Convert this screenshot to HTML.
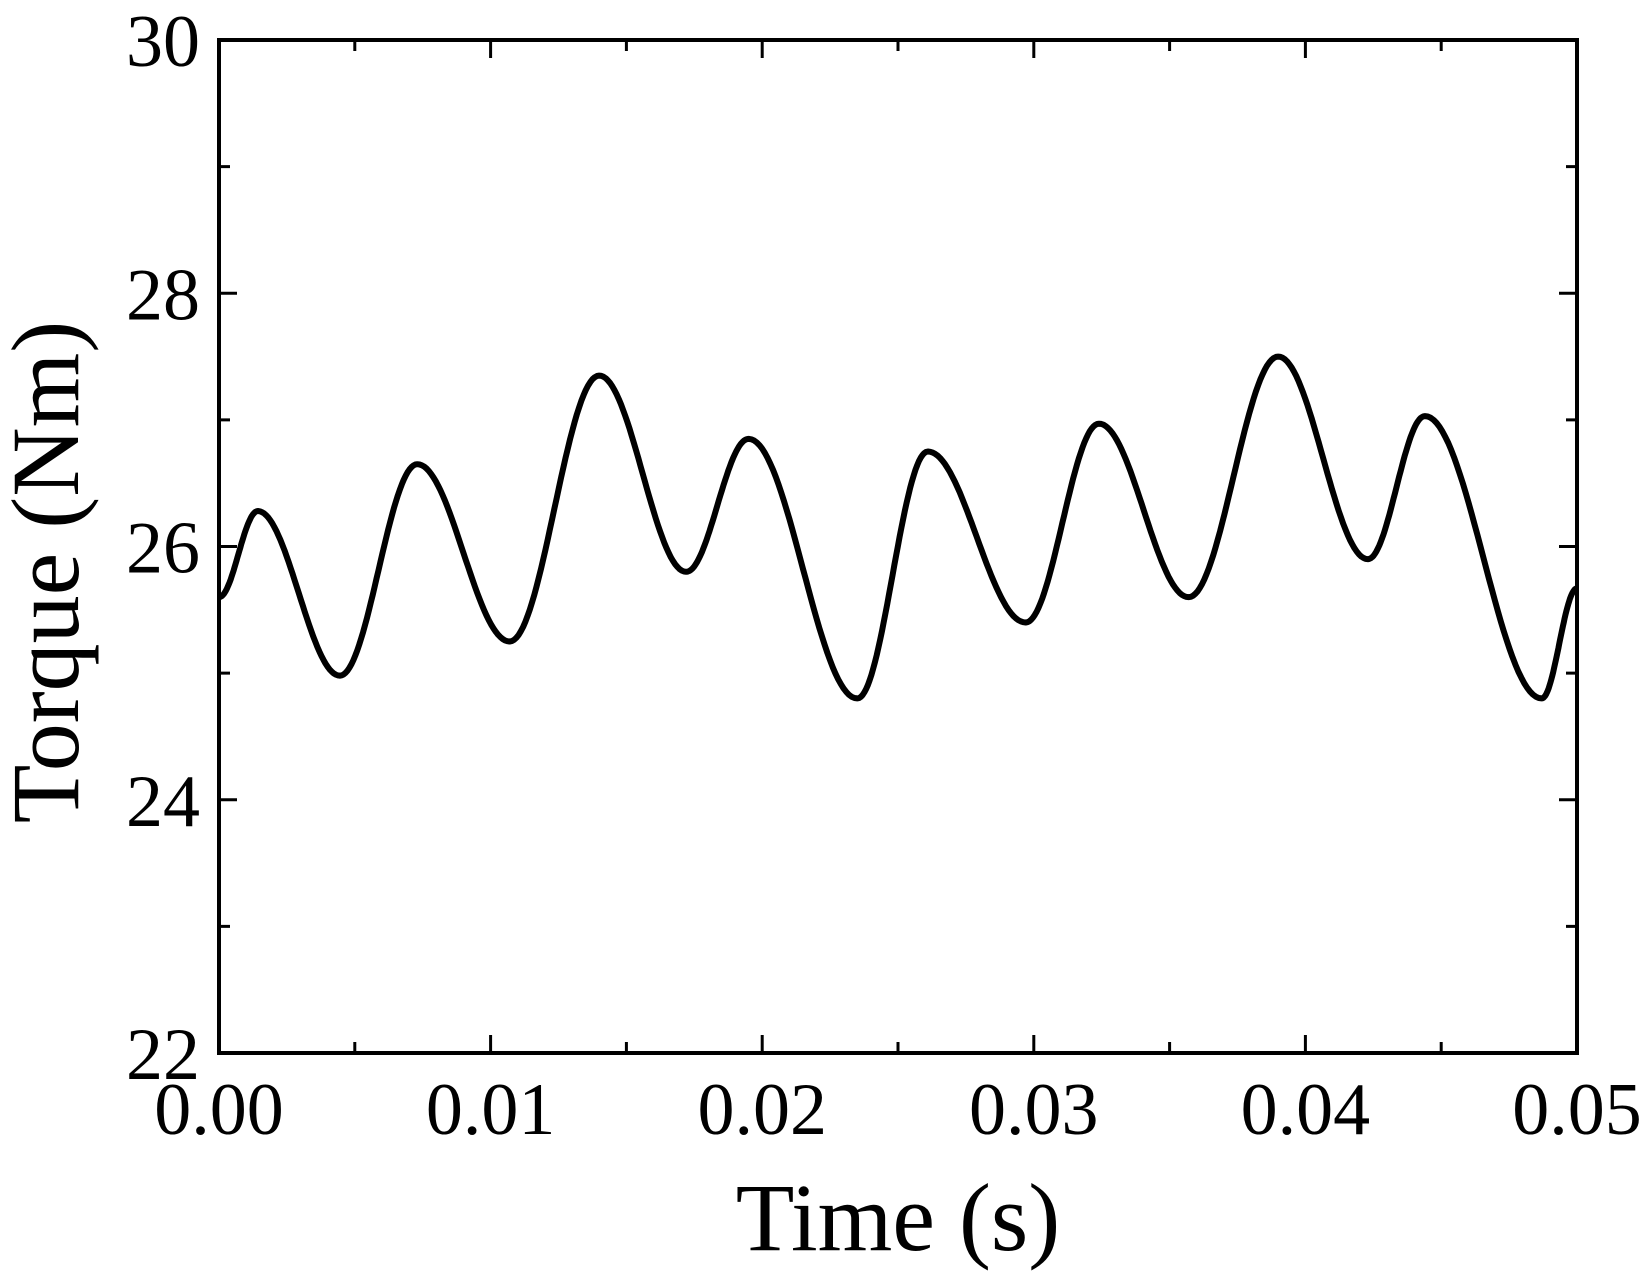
<!DOCTYPE html>
<html><head><meta charset="utf-8"><style>
html,body{margin:0;padding:0;background:#fff;}
svg{display:block;font-family:"Liberation Serif",serif;}
</style></head><body>
<svg id="chart" width="1647" height="1280" viewBox="0 0 1647 1280" xmlns="http://www.w3.org/2000/svg">
<g id="ticks"></g>
<g id="labels"></g>
<path id="series" fill="none" stroke="#000" stroke-width="6" stroke-linejoin="round"></path>
<rect x="219" y="40" width="1358" height="1013" fill="none" stroke="#000" stroke-width="4"/>
<text x="898" y="1250" font-size="96" text-anchor="middle">Time (s)</text>
<text transform="translate(78,572) rotate(-90)" font-size="96" text-anchor="middle">Torque (Nm)</text>
</svg>
<script>
const times = [0, 0.00143, 0.00445, 0.0073, 0.0107, 0.014, 0.0172, 0.0195, 0.0235, 0.0261, 0.0297, 0.0324, 0.0357, 0.039, 0.0423, 0.0444, 0.0487, 0.05];
const torque = [25.6, 26.28, 24.98, 26.65, 25.25, 27.35, 25.8, 26.85, 24.8, 26.75, 25.4, 26.97, 25.6, 27.5, 25.9, 27.03, 24.8, 25.67];
const xTicks = [0, 0.01, 0.02, 0.03, 0.04, 0.05];
const xTickLabels = ["0.00", "0.01", "0.02", "0.03", "0.04", "0.05"];
const yTicks = [22, 24, 26, 28, 30];
const yTickLabels = ["22", "24", "26", "28", "30"];

const X0=219, X1=1577, Y0=1053, Y1=40;
const xs = t => X0 + (t-0)/(0.05-0)*(X1-X0);
const ys = v => Y0 - (v-22)/(30-22)*(Y0-Y1);
const NS='http://www.w3.org/2000/svg';
const tg=document.getElementById('ticks'), lg=document.getElementById('labels');
function line(x1,y1,x2,y2,name){const l=document.createElementNS(NS,'line');
l.setAttribute('x1',x1);l.setAttribute('y1',y1);l.setAttribute('x2',x2);l.setAttribute('y2',y2);
l.setAttribute('stroke','#000');l.setAttribute('stroke-width','3');


tg.appendChild(l);}
const ML=18, mL=11;
for(let i=0;i<xTicks.length;i++){
  const x=xs(xTicks[i]);
  line(x,Y0,x,Y0-ML,'x-major-tick');line(x,Y1,x,Y1+ML,'x-major-tick-top');
  if(i<xTicks.length-1){const xm=xs((xTicks[i]+xTicks[i+1])/2);
    line(xm,Y0,xm,Y0-mL,'x-minor-tick');line(xm,Y1,xm,Y1+mL,'x-minor-tick-top');}
  const t=document.createElementNS(NS,'text');
  t.setAttribute('x',x);t.setAttribute('y',1134);t.setAttribute('font-size','74');t.setAttribute('text-anchor','middle');
  t.textContent=xTickLabels[i];
  
  
  lg.appendChild(t);
}
for(let i=0;i<yTicks.length;i++){
  const y=ys(yTicks[i]);
  line(X0,y,X0+ML,y,'y-major-tick');line(X1,y,X1-ML,y,'y-major-tick-right');
  if(i<yTicks.length-1){const ym=ys((yTicks[i]+yTicks[i+1])/2);
    line(X0,ym,X0+mL,ym,'y-minor-tick');line(X1,ym,X1-mL,ym,'y-minor-tick-right');}
  const t=document.createElementNS(NS,'text');
  t.setAttribute('x',200);t.setAttribute('y',y+26);t.setAttribute('font-size','74');t.setAttribute('text-anchor','end');
  t.textContent=yTickLabels[i];
  
  
  lg.appendChild(t);
}
let d='';
for(let i=0;i<times.length-1;i++){
  const n=40;
  for(let k=0;k<=n;k++){
    if(i>0&&k==0)continue;
    const f=k/n, c=(1-Math.cos(Math.PI*f))/2;
    const t=times[i]+(times[i+1]-times[i])*f;
    const v=torque[i]+(torque[i+1]-torque[i])*c;
    d+=(d?'L':'M')+xs(t).toFixed(1)+','+ys(v).toFixed(1);
  }
}
document.getElementById('series').setAttribute('d',d);
</script>
</body></html>
